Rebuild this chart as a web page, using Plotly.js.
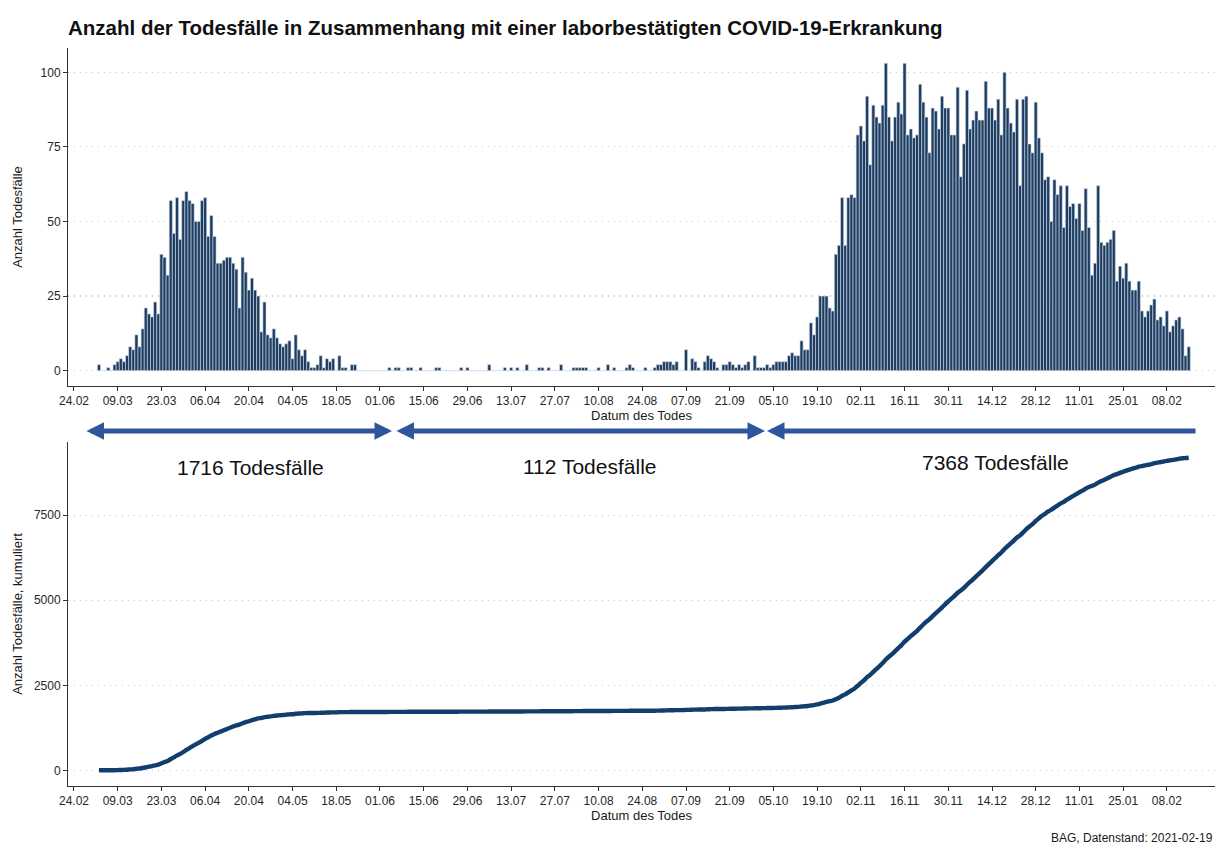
<!DOCTYPE html>
<html>
<head>
<meta charset="utf-8">
<script src="https://cdn.plot.ly/plotly-3.0.1.min.js"></script>
<style>
html,body{margin:0;padding:0;background:#fff;}
#chart{width:1219px;height:844px;}
</style>
</head>
<body>
<div id="chart"></div>
<script>
// ---- Data ----
// Daily deaths starting 2020-03-03
const seriesStart = [2020, 2, 3]; // 3 March 2020 (month 0-based)

// 03.03.2020 – 24.05.2020
const firstWaveDeaths = [
  2,0,0,1,0,
  2,3,4,3,5,8,7,12,8,14,
  21,19,18,23,19,39,38,32,57,46,
  58,44,57,60,57,56,50,50,57,58,
  45,52,45,36,36,37,38,38,36,34,
  21,38,33,27,31,27,25,13,23,12,
  11,14,11,9,8,9,10,4,12,7,
  5,7,3,1,1,2,5,1,4,3,
  4,0,5,1,1,0,2,2
];

// 25.05.2020 – 30.09.2020
const summerDeaths = [
  0,0,0,0,0,0,0,0,0,0,
  1,0,1,1,0,0,1,1,0,0,
  1,0,0,0,0,1,1,0,0,0,
  0,0,0,1,0,1,0,0,0,0,
  0,0,2,0,0,0,0,1,0,1,
  0,1,0,0,2,0,0,0,1,1,
  0,1,0,0,0,2,0,0,0,1,
  1,1,1,1,0,0,0,1,0,0,
  2,0,1,0,0,0,1,2,1,0,
  0,0,1,0,0,1,2,2,3,3,
  3,2,3,0,0,7,0,4,3,1,
  0,3,5,4,3,1,0,2,2,3,
  2,1,2,1,2,3,0,5,1
];

// 01.10.2020 – 16.02.2021
const secondWaveDeaths = [
  1,1,2,1,2,3,3,3,3,5,
  6,5,5,10,7,7,16,12,18,25,
  25,25,21,20,39,42,58,42,58,59,
  58,79,82,77,92,69,89,85,83,89,
  103,85,77,85,90,86,103,79,81,78,
  79,96,90,85,73,88,87,81,92,88,
  88,79,79,95,65,76,94,81,84,87,
  84,84,97,88,
  88,84,91,79,100,88,83,80,91,62,
  91,92,76,73,90,78,73,64,65,50,
  64,59,62,48,62,55,56,51,56,47,
  61,48,32,36,62,43,42,43,44,47,
  30,35,31,36,30,27,27,30,20,18,
  20,22,24,17,18,15,20,13,15,17,
  18,14,5,8
];

const periodLabels = ['1716 Todesfälle', '112 Todesfälle', '7368 Todesfälle'];
const xTickDates = ['2020-02-24','2020-03-09','2020-03-23','2020-04-06','2020-04-20','2020-05-04',
  '2020-05-18','2020-06-01','2020-06-15','2020-06-29','2020-07-13','2020-07-27','2020-08-10',
  '2020-08-24','2020-09-07','2020-09-21','2020-10-05','2020-10-19','2020-11-02','2020-11-16',
  '2020-11-30','2020-12-14','2020-12-28','2021-01-11','2021-01-25','2021-02-08'];
const xTickLabels = ['24.02','09.03','23.03','06.04','20.04','04.05','18.05','01.06','15.06',
  '29.06','13.07','27.07','10.08','24.08','07.09','21.09','05.10','19.10','02.11','16.11',
  '30.11','14.12','28.12','11.01','25.01','08.02'];
const yTicksDaily = [0, 25, 50, 75, 100];
const yTicksCum = [0, 2500, 5000, 7500];

// ---- Build series ----
const dailyDeaths = firstWaveDeaths.concat(summerDeaths, secondWaveDeaths);
const dates = dailyDeaths.map((_, i) =>
  new Date(Date.UTC(seriesStart[0], seriesStart[1], seriesStart[2] + i)).toISOString().slice(0, 10));
let run = 0;
const cumDeaths = dailyDeaths.map(v => (run += v));

// ---- Layout helpers (pixel -> paper) ----
const W = 1219, H = 844;
const mL = 68, mR = 4, mT = 48, mB = 58;
const pw = W - mL - mR, ph = H - mT - mB;
const px = x => (x - mL) / pw;
const py = y => (H - mB - y) / ph;

const fontFam = '"Liberation Sans", Arial, sans-serif';
const tickFont = {family: fontFam, size: 12, color: '#262626'};
const axTitleFont = {family: fontFam, size: 13, color: '#1a1a1a'};
const xRange = ['2020-02-22 02:00', '2021-02-23 10:00'];

const xCommon = {
  type: 'date', range: xRange, tickmode: 'array', tickvals: xTickDates, ticktext: xTickLabels,
  ticks: 'outside', ticklen: 4, tickcolor: '#333',
  showline: true, linecolor: '#333', linewidth: 1, showgrid: false, zeroline: false,
  tickfont: tickFont, automargin: false, fixedrange: true
};
const yCommon = {
  ticks: 'outside', ticklen: 4, tickcolor: '#333', showline: true, linecolor: '#333', linewidth: 1,
  showgrid: true, gridcolor: '#c4c4c4', griddash: '1px,5px', gridwidth: 1.2, zeroline: false,
  tickfont: tickFont, automargin: false, tickformat: 'd'
};

const traces = [
  {
    type: 'bar', x: dates, y: dailyDeaths, xaxis: 'x', yaxis: 'y',
    marker: {color: '#1d3d63', line: {color: '#d3dbe5', width: 0.6}},
    hoverinfo: 'x+y', showlegend: false
  },
  {
    type: 'scatter', mode: 'lines', x: dates, y: cumDeaths, xaxis: 'x2', yaxis: 'y2',
    line: {color: '#123e6e', width: 4.4, simplify: false, shape: 'spline', smoothing: 0.6},
    hoverinfo: 'x+y', showlegend: false
  }
];

const arrowColor = '#2f569c';
const arrowY = py(431);

const layout = {
  width: W, height: H,
  margin: {l: mL, r: mR, t: mT, b: mB},
  paper_bgcolor: '#ffffff', plot_bgcolor: '#ffffff',
  bargap: 0,
  title: {
    text: 'Anzahl der Todesfälle in Zusammenhang mit einer laborbestätigten COVID-19-Erkrankung',
    font: {family: fontFam, size: 20.5, color: '#111', weight: 'bold'},
    xref: 'paper', x: 0, xanchor: 'left', yref: 'container', y: 1 - 28 / H, yanchor: 'middle'
  },
  xaxis: Object.assign({}, xCommon, {
    anchor: 'y', domain: [0, 1],
    title: {text: 'Datum des Todes', font: axTitleFont, standoff: 2}
  }),
  yaxis: Object.assign({}, yCommon, {
    anchor: 'x', domain: [py(386), 1], range: [-5.15, 108.15], tickvals: yTicksDaily,
    title: {text: 'Anzahl Todesfälle', font: axTitleFont, standoff: 15}
  }),
  xaxis2: Object.assign({}, xCommon, {
    anchor: 'y2', domain: [0, 1],
    title: {text: 'Datum des Todes', font: axTitleFont, standoff: 2}
  }),
  yaxis2: Object.assign({}, yCommon, {
    anchor: 'x2', domain: [0, py(442)], range: [-459, 9650], tickvals: yTicksCum,
    title: {text: 'Anzahl Todesfälle, kumuliert', font: axTitleFont, standoff: 8}
  }),
  annotations: [
    {xref: 'paper', yref: 'paper', x: px(392), y: arrowY, ax: -(392 - 85), ay: 0,
     axref: 'pixel', ayref: 'pixel', text: '', showarrow: true, arrowside: 'end+start',
     arrowhead: 2, arrowsize: 0.7, arrowwidth: 5, arrowcolor: arrowColor, standoff: 0, startstandoff: 0},
    {xref: 'paper', yref: 'paper', x: px(765), y: arrowY, ax: -(765 - 395), ay: 0,
     axref: 'pixel', ayref: 'pixel', text: '', showarrow: true, arrowside: 'end+start',
     arrowhead: 2, arrowsize: 0.7, arrowwidth: 5, arrowcolor: arrowColor, standoff: 0, startstandoff: 0},
    {xref: 'paper', yref: 'paper', x: px(767), y: arrowY, ax: (1197 - 767), ay: 0,
     axref: 'pixel', ayref: 'pixel', text: '', showarrow: true, arrowside: 'end',
     arrowhead: 2, arrowsize: 0.7, arrowwidth: 5, arrowcolor: arrowColor, standoff: 0},
    {xref: 'paper', yref: 'paper', x: px(250), y: py(467), text: periodLabels[0], showarrow: false,
     xanchor: 'center', yanchor: 'middle', font: {family: fontFam, size: 21, color: '#111'}},
    {xref: 'paper', yref: 'paper', x: px(590), y: py(466), text: periodLabels[1], showarrow: false,
     xanchor: 'center', yanchor: 'middle', font: {family: fontFam, size: 21, color: '#111'}},
    {xref: 'paper', yref: 'paper', x: px(995), y: py(462), text: periodLabels[2], showarrow: false,
     xanchor: 'center', yanchor: 'middle', font: {family: fontFam, size: 21, color: '#111'}},
    {xref: 'paper', yref: 'paper', x: px(1215), y: py(838), text: 'BAG, Datenstand: 2021-02-19',
     showarrow: false, xanchor: 'right', yanchor: 'middle', font: {family: fontFam, size: 12, color: '#1a1a1a'}}
  ]
};

Plotly.newPlot('chart', traces, layout, {displayModeBar: false, staticPlot: true});
</script>
</body>
</html>
